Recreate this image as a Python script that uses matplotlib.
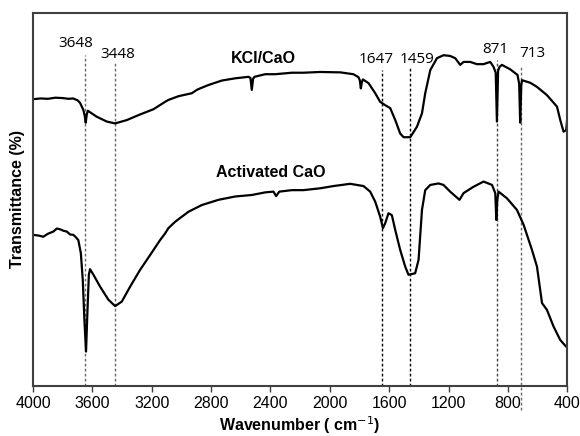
import matplotlib.pyplot as plt

plt.rcParams['font.family'] = ['Liberation Sans', 'DejaVu Sans']

# KCl/CaO spectrum (wavenumber, relative transmittance)
kcl_wn = [3998, 3950, 3900, 3850, 3800, 3760, 3730, 3700, 3683, 3661, 3652, 3645, 3638, 3631,
          3571, 3503, 3447, 3368, 3279, 3189, 3110, 3088, 3020, 2930, 2896, 2874, 2818,
          2728, 2638, 2548, 2535, 2526, 2517, 2508, 2436, 2368, 2256, 2178, 2065, 1930,
          1841, 1807, 1798, 1791, 1784, 1777, 1739, 1694, 1661, 1627, 1593, 1559, 1526,
          1503, 1458, 1413, 1379, 1357, 1323, 1278, 1234, 1189, 1155, 1121, 1099, 1054,
          1009, 964, 919, 897, 882, 874, 866, 856, 840, 784, 735, 724, 717, 710, 705,
          649, 604, 537, 469, 447, 425, 407, 400]
kcl_t = [76.9, 77.1, 77.0, 77.3, 77.2, 77.0, 77.1, 76.6, 75.9, 74.0, 72.5, 70.6, 72.8, 73.8,
         72.2, 70.9, 70.4, 71.3, 72.8, 74.2, 76.2, 76.7, 77.7, 78.5, 79.4, 79.8, 80.7,
         81.9, 82.5, 82.9, 82.6, 79.4, 82.4, 82.9, 83.6, 83.6, 84.0, 84.0, 84.2, 84.1,
         83.6, 82.8, 82.0, 79.8, 81.5, 82.2, 81.2, 78.5, 76.2, 75.3, 74.5, 71.3, 67.7,
         66.7, 66.7, 69.5, 73.1, 78.5, 84.7, 87.9, 88.7, 88.5, 87.9, 86.1, 86.9, 86.9,
         86.3, 86.3, 86.9, 85.6, 84.0, 70.9, 84.5, 85.6, 86.1, 84.9, 83.4, 81.0, 70.6, 80.5, 82.0,
         81.3, 80.2, 78.0, 74.9, 71.3, 68.2, 68.6, 71.8]

# Activated CaO spectrum
cao_wn = [3998, 3960, 3931, 3900, 3863, 3840, 3818, 3795, 3773, 3750, 3728, 3710, 3695,
          3678, 3665, 3654, 3643, 3634, 3624, 3616, 3593, 3548, 3492, 3447, 3402, 3346,
          3279, 3211, 3144, 3110, 3088, 3043, 2953, 2863, 2751, 2638, 2526, 2436, 2380,
          2362, 2341, 2256, 2178, 2065, 1975, 1863, 1773, 1728, 1694, 1661, 1642, 1627,
          1605, 1582, 1559, 1526, 1492, 1470, 1425, 1402, 1379, 1357, 1323, 1267, 1234,
          1189, 1126, 1099, 1032, 964, 907, 885, 878, 871, 863, 806, 739, 694, 638, 604,
          570, 537, 492, 447, 407, 400]
cao_t = [40.5, 40.3, 40.0, 40.8, 41.4, 42.2, 42.0, 41.6, 41.4, 40.6, 40.5, 39.8, 39.1,
         35.6, 28.4, 17.7, 9.2, 19.5, 29.8, 31.3, 29.8, 26.6, 23.1, 21.4, 22.6, 26.6,
         31.1, 35.1, 39.1, 40.9, 42.3, 44.0, 46.7, 48.5, 49.9, 50.8, 51.2, 51.9, 52.1,
         50.9, 52.1, 52.5, 52.5, 53.0, 53.6, 54.2, 53.6, 52.1, 49.4, 45.4, 42.3, 43.6,
         46.3, 45.8, 41.8, 36.5, 32.0, 29.8, 30.2, 33.8, 47.2, 52.5, 53.9, 54.3, 53.9,
         52.1, 49.9, 51.7, 53.4, 54.8, 53.9, 51.7, 44.5, 50.0, 52.1, 50.3, 47.2, 43.2, 36.5, 32.0,
         22.2, 20.4, 15.9, 12.3, 10.5, 10.3]

# Marked bands: position, top of dashed line, label position
bandas = [3648, 3448, 1647, 1459, 871, 713]
banda_top = [88.7, 86.9, 84.7, 85.5, 87.4, 86.1]
banda_bottom = [0, 0, 0, 0, 0, -6.4]
banda_color = ['#666666', '#666666', 'black', 'black', '#444444', '#666666']
etiqueta_x = [3710, 3432, 1691, 1411, 882, 638]
etiqueta_y = [91.9, 89.0, 87.6, 87.6, 90.3, 89.2]

fig = plt.figure(figsize=(5.8, 4.36), dpi=100)
ax = fig.add_axes([0.057, 0.115, 0.921, 0.855])

for b, t, bt, c in zip(bandas, banda_top, banda_bottom, banda_color):
    ax.plot([b, b], [bt, t], color=c, linestyle=(0, (2, 1.6)), linewidth=1.0, clip_on=False, zorder=1)

ax.plot(kcl_wn, kcl_t, color='black', linewidth=1.6, zorder=2)
ax.plot(cao_wn, cao_t, color='black', linewidth=1.6, zorder=2)

for b, x, y in zip(bandas, etiqueta_x, etiqueta_y):
    ax.text(x, y, str(b), ha='center', va='center', fontsize=11, family=['Open Sans', 'DejaVu Sans'])

ax.text(2446, 87.9, 'KCl/CaO', ha='center', va='center', fontsize=11.5, fontweight='bold')
ax.text(2395, 57.2, 'Activated CaO', ha='center', va='center', fontsize=11.5, fontweight='bold')

ax.set_xlim(4000, 400)
ax.set_ylim(0, 100)
ax.set_xticks(range(4000, 399, -400))
ax.set_yticks([])
ax.tick_params(axis='x', direction='out', length=4, width=1, labelsize=11.5, colors='#404040', labelcolor='black')
for s in ax.spines.values():
    s.set_color('#404040')
    s.set_linewidth(1.5)

ax.set_xlabel('Wavenumber ( cm$^{-1}$)', fontsize=11.5, fontweight='bold', labelpad=2)
ax.set_ylabel('Transmittance (%)', fontsize=11.5, fontweight='bold', labelpad=6)

fig.savefig('out.png', dpi=100)
